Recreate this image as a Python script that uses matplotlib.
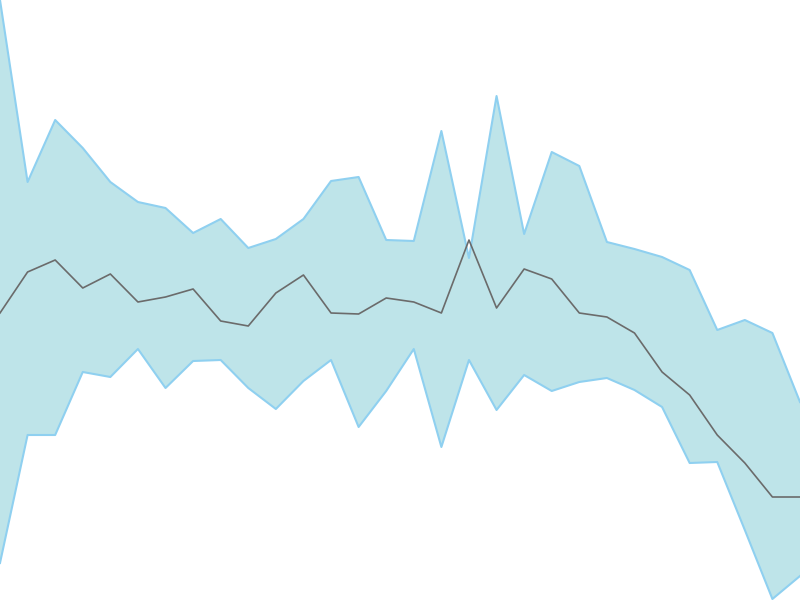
import numpy as np
import matplotlib.pyplot as plt

# values (height from the bottom, 0..600 scale)
upper = [600, 418, 480, 452, 418, 398, 392, 367, 381, 352, 361, 381, 419, 423, 360,
         359, 469, 342, 504, 366, 448, 434, 358, 351, 343, 330, 270, 280, 267, 198]
middle = [287, 328, 340, 312, 326, 298, 303, 311, 279, 274, 307, 325, 287, 286, 302,
          298, 287, 360, 292, 331, 321, 287, 283, 267, 228, 205, 165, 137, 103, 103]
lower = [37, 165, 165, 228, 223, 251, 212, 239, 240, 212, 191, 219, 240, 173, 209,
         251, 153, 240, 190, 225, 209, 218, 222, 210, 193, 137, 138, 70, 1, 24]

x = np.arange(len(middle))

fig = plt.figure(figsize=(8, 6), dpi=100)
ax = fig.add_axes([0, 0, 1, 1])
ax.fill_between(x, lower, upper, color="#bee4e9", linewidth=0)
ax.plot(x, upper, color="#8fd0f0", linewidth=1.5)
ax.plot(x, lower, color="#8fd0f0", linewidth=1.5)
ax.plot(x, middle, color="#6b6b6b", linewidth=1.2)
ax.set_xlim(0, len(x) - 1)
ax.set_ylim(0, 600)
ax.axis("off")
fig.savefig("out.png")
